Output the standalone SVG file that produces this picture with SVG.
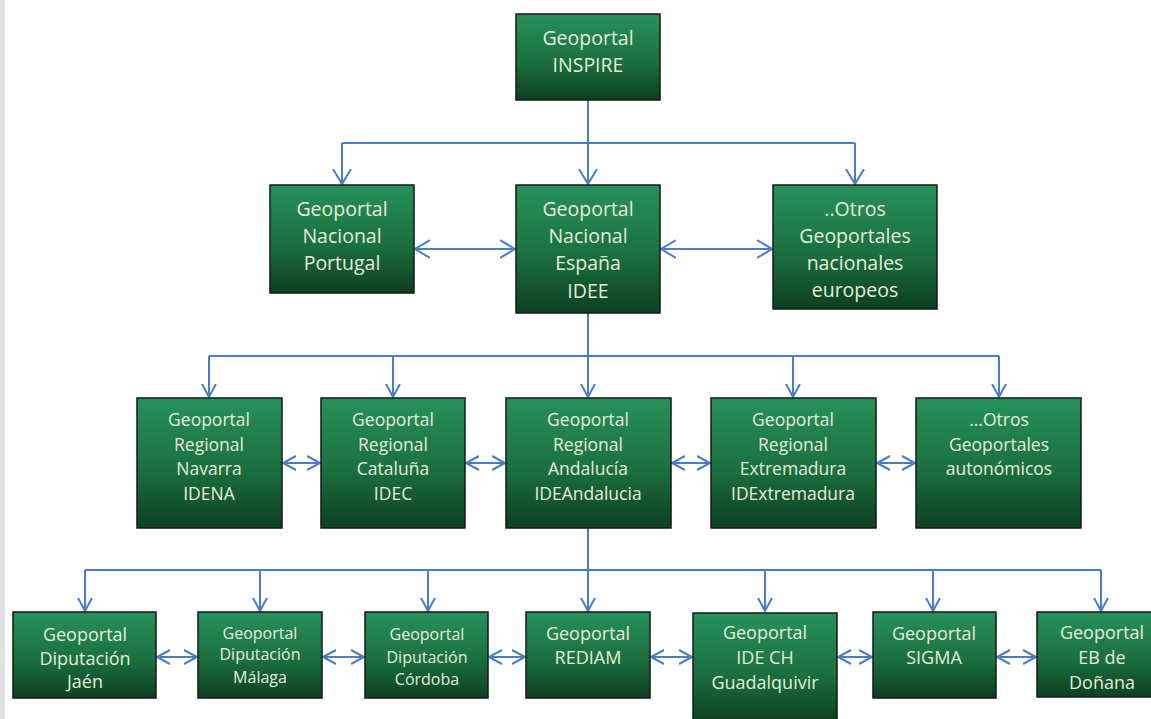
<svg xmlns="http://www.w3.org/2000/svg" width="1151" height="719" viewBox="0 0 1151 719">
<defs>
<linearGradient id="g" x1="0" y1="0" x2="0" y2="1">
<stop offset="0" stop-color="#27915a"/>
<stop offset="0.55" stop-color="#1b703f"/>
<stop offset="1" stop-color="#0d3f22"/>
</linearGradient>
<marker id="a1" markerUnits="userSpaceOnUse" markerWidth="18" markerHeight="22" refX="15" refY="10" orient="auto-start-reverse" viewBox="0 0 18 22">
<path d="M0,1 L15,10 L0,19" fill="none" stroke="#4a7cc7" stroke-width="2"/>
</marker>
<marker id="a2" markerUnits="userSpaceOnUse" markerWidth="16" markerHeight="18" refX="13" refY="8" orient="auto-start-reverse" viewBox="0 0 16 18">
<path d="M0,1 L13,8 L0,15" fill="none" stroke="#4a7cc7" stroke-width="2"/>
</marker>
</defs>
<style>
.b{fill:url(#g);stroke:#141a16;stroke-width:1.5}
.t{font-family:"Open Sans","Noto Sans",sans-serif;fill:#e4eedb;text-anchor:middle}
.l{fill:none;stroke:#4a7cc7;stroke-width:2}
.s1{font-size:19.5px}
.s2{font-size:17.5px}
.s3{font-size:18px}
.s4{font-size:16px}
</style>
<rect x="0" y="0" width="1151" height="719" fill="#ffffff"/>
<rect x="0" y="0" width="5" height="719" fill="#dde1e1"/>

<g id="connectors">
<path class="l" d="M588,100 V143"/>
<path class="l" d="M342,143 H855"/>
<path class="l" d="M342,143 V184" marker-end="url(#a1)"/>
<path class="l" d="M588,143 V184" marker-end="url(#a1)"/>
<path class="l" d="M855,143 V184" marker-end="url(#a1)"/>
<path class="l" d="M415,249 H515" marker-start="url(#a1)" marker-end="url(#a1)"/>
<path class="l" d="M661,249 H772" marker-start="url(#a1)" marker-end="url(#a1)"/>

<path class="l" d="M588,313 V356"/>
<path class="l" d="M209,356 H999"/>
<path class="l" d="M209,356 V397" marker-end="url(#a2)"/>
<path class="l" d="M393,356 V397" marker-end="url(#a2)"/>
<path class="l" d="M588,356 V397" marker-end="url(#a2)"/>
<path class="l" d="M793,356 V397" marker-end="url(#a2)"/>
<path class="l" d="M999,356 V397" marker-end="url(#a2)"/>
<path class="l" d="M283,463 H320" marker-start="url(#a2)" marker-end="url(#a2)"/>
<path class="l" d="M466,463 H505" marker-start="url(#a2)" marker-end="url(#a2)"/>
<path class="l" d="M672,463 H710" marker-start="url(#a2)" marker-end="url(#a2)"/>
<path class="l" d="M877,463 H915" marker-start="url(#a2)" marker-end="url(#a2)"/>

<path class="l" d="M588,528 V570"/>
<path class="l" d="M85,570 H1101"/>
<path class="l" d="M85,570 V611" marker-end="url(#a2)"/>
<path class="l" d="M260,570 V611" marker-end="url(#a2)"/>
<path class="l" d="M428,570 V611" marker-end="url(#a2)"/>
<path class="l" d="M588,570 V611" marker-end="url(#a2)"/>
<path class="l" d="M765,570 V611" marker-end="url(#a2)"/>
<path class="l" d="M933,570 V611" marker-end="url(#a2)"/>
<path class="l" d="M1101,570 V611" marker-end="url(#a2)"/>
<path class="l" d="M157,657 H197" marker-start="url(#a2)" marker-end="url(#a2)"/>
<path class="l" d="M323,657 H364" marker-start="url(#a2)" marker-end="url(#a2)"/>
<path class="l" d="M489,657 H525" marker-start="url(#a2)" marker-end="url(#a2)"/>
<path class="l" d="M651,657 H692" marker-start="url(#a2)" marker-end="url(#a2)"/>
<path class="l" d="M838,657 H872" marker-start="url(#a2)" marker-end="url(#a2)"/>
<path class="l" d="M997,657 H1036" marker-start="url(#a2)" marker-end="url(#a2)"/>
</g>

<g id="inspire">
<rect class="b" x="516" y="14" width="144" height="86"/>
<text class="t s1" x="588"><tspan x="588" y="45">Geoportal</tspan><tspan x="588" y="72">INSPIRE</tspan></text>
</g>

<g id="portugal">
<rect class="b" x="270" y="185" width="144" height="108"/>
<text class="t s1"><tspan x="342" y="216">Geoportal</tspan><tspan x="342" y="243">Nacional</tspan><tspan x="342" y="270">Portugal</tspan></text>
</g>
<g id="espana">
<rect class="b" x="516" y="185" width="144" height="128"/>
<text class="t s1"><tspan x="588" y="216">Geoportal</tspan><tspan x="588" y="243">Nacional</tspan><tspan x="588" y="270">España</tspan><tspan x="588" y="298">IDEE</tspan></text>
</g>
<g id="otros-nacionales">
<rect class="b" x="773" y="185" width="164" height="124"/>
<text class="t s1"><tspan x="855" y="216">..Otros</tspan><tspan x="855" y="243">Geoportales</tspan><tspan x="855" y="270">nacionales</tspan><tspan x="855" y="297">europeos</tspan></text>
</g>

<g id="navarra">
<rect class="b" x="137" y="398" width="145" height="130"/>
<text class="t s2"><tspan x="209" y="426">Geoportal</tspan><tspan x="209" y="451">Regional</tspan><tspan x="209" y="475">Navarra</tspan><tspan x="209" y="500">IDENA</tspan></text>
</g>
<g id="cataluna">
<rect class="b" x="321" y="398" width="144" height="130"/>
<text class="t s2"><tspan x="393" y="426">Geoportal</tspan><tspan x="393" y="451">Regional</tspan><tspan x="393" y="475">Cataluña</tspan><tspan x="393" y="500">IDEC</tspan></text>
</g>
<g id="andalucia">
<rect class="b" x="506" y="398" width="165" height="130"/>
<text class="t s2"><tspan x="588" y="426">Geoportal</tspan><tspan x="588" y="451">Regional</tspan><tspan x="588" y="475">Andalucía</tspan><tspan x="588" y="500">IDEAndalucia</tspan></text>
</g>
<g id="extremadura">
<rect class="b" x="711" y="398" width="165" height="130"/>
<text class="t s2"><tspan x="793" y="426">Geoportal</tspan><tspan x="793" y="451">Regional</tspan><tspan x="793" y="475">Extremadura</tspan><tspan x="793" y="500">IDExtremadura</tspan></text>
</g>
<g id="otros-autonomicos">
<rect class="b" x="916" y="398" width="165" height="130"/>
<text class="t s2"><tspan x="999" y="426">...Otros</tspan><tspan x="999" y="451">Geoportales</tspan><tspan x="999" y="475">autonómicos</tspan></text>
</g>

<g id="jaen">
<rect class="b" x="13" y="612" width="143" height="86"/>
<text class="t s3"><tspan x="85" y="641">Geoportal</tspan><tspan x="85" y="665">Diputación</tspan><tspan x="85" y="688">Jaén</tspan></text>
</g>
<g id="malaga">
<rect class="b" x="198" y="612" width="124" height="86"/>
<text class="t s4"><tspan x="260" y="639">Geoportal</tspan><tspan x="260" y="660">Diputación</tspan><tspan x="260" y="683">Málaga</tspan></text>
</g>
<g id="cordoba">
<rect class="b" x="365" y="612" width="123" height="86"/>
<text class="t s4"><tspan x="427" y="640">Geoportal</tspan><tspan x="427" y="663">Diputación</tspan><tspan x="427" y="685">Córdoba</tspan></text>
</g>
<g id="rediam">
<rect class="b" x="526" y="612" width="124" height="86"/>
<text class="t s3"><tspan x="588" y="640">Geoportal</tspan><tspan x="588" y="664">REDIAM</tspan></text>
</g>
<g id="idech">
<rect class="b" x="693" y="613" width="144" height="110"/>
<text class="t s3"><tspan x="765" y="639">Geoportal</tspan><tspan x="765" y="664">IDE CH</tspan><tspan x="765" y="689">Guadalquivir</tspan></text>
</g>
<g id="sigma">
<rect class="b" x="873" y="612" width="123" height="86"/>
<text class="t s3"><tspan x="934" y="640">Geoportal</tspan><tspan x="934" y="664">SIGMA</tspan></text>
</g>
<g id="donana">
<rect class="b" x="1037" y="612" width="130" height="85"/>
<text class="t s3"><tspan x="1102" y="639">Geoportal</tspan><tspan x="1102" y="664">EB de</tspan><tspan x="1102" y="689">Doñana</tspan></text>
</g>
</svg>
